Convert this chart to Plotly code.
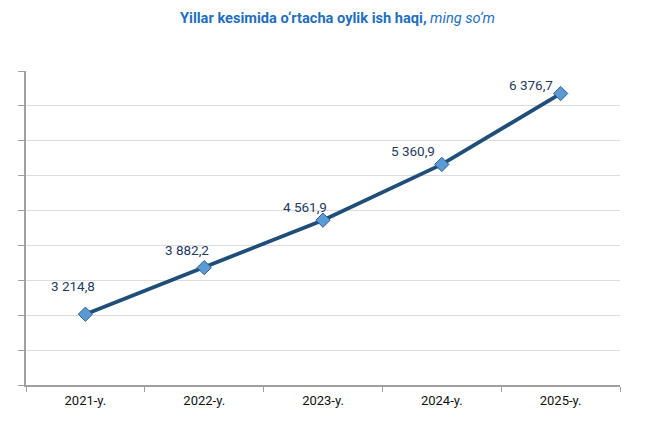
import plotly.graph_objects as go

years = ["2021-y.", "2022-y.", "2023-y.", "2024-y.", "2025-y."]
wages = [3214.8, 3882.2, 4561.9, 5360.9, 6376.7]
wage_labels = ["3 214,8", "3 882,2", "4 561,9", "5 360,9", "6 376,7"]

label_dx = [-12, -17, -18, -29, -30]
label_dy = [28, 18, 13, 13, 9]

fig = go.Figure()
fig.add_trace(go.Scatter(
    x=years, y=wages, mode="lines+markers",
    line=dict(color="#1F4E79", width=3.8),
    marker=dict(symbol="diamond", size=11, color="#5B9BD5",
                line=dict(color="#2E5F8F", width=1)),
    hoverinfo="skip", showlegend=False,
))

for x, y, t, dx, dy in zip(years, wages, wage_labels, label_dx, label_dy):
    fig.add_annotation(x=x, y=y, text=t, showarrow=False,
                       xshift=dx, yshift=dy,
                       font=dict(family="Roboto", size=13.5, color="#1F3864"))

fig.add_annotation(
    xref="paper", yref="paper", x=0.525, y=1.169, yanchor="middle",
    showarrow=False,
    text="<b>Yillar kesimida o‘rtacha oylik ish haqi,</b> <i>ming so‘m</i>",
    font=dict(family="Roboto", size=14.6, color="#1F6FBF"),
)

fig.update_layout(
    width=645, height=415,
    margin=dict(l=18, r=33, t=63, b=38),
    paper_bgcolor="white", plot_bgcolor="white",
    xaxis=dict(
        type="category", range=[-0.5, 4.5],
        showline=True, linecolor="#A0A0A0", linewidth=1.5,
        ticks="outside", tickson="boundaries", ticklen=5, tickcolor="#A0A0A0",
        ticklabelstandoff=3,
        showgrid=False,
        tickfont=dict(family="Roboto", size=13, color="#111111"),
    ),
    yaxis=dict(
        range=[2200, 6700], tick0=2200, dtick=500,
        showline=True, linecolor="#A0A0A0", linewidth=1.5,
        ticks="outside", ticklen=6, tickcolor="#A0A0A0",
        showticklabels=False,
        showgrid=True, gridcolor="#DCDCDC", gridwidth=1,
        zeroline=False,
    ),
)

fig.write_html("out.html")
